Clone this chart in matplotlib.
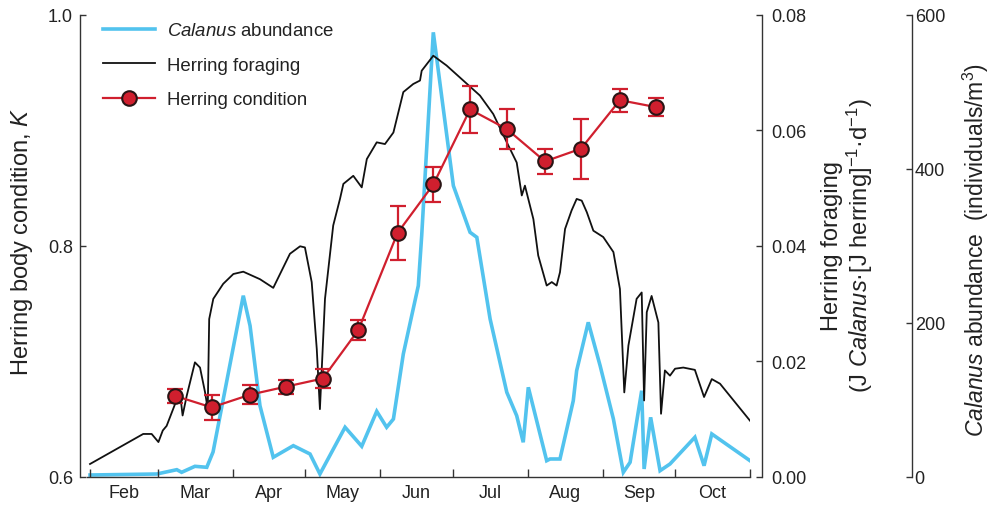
import matplotlib
matplotlib.use("Agg")
import matplotlib.pyplot as plt
from matplotlib.lines import Line2D

plt.rcParams['font.family'] = ['Liberation Sans', 'DejaVu Sans']
plt.rcParams['mathtext.fontset'] = 'custom'
plt.rcParams['mathtext.rm'] = 'Liberation Sans'
plt.rcParams['mathtext.it'] = 'Liberation Sans:italic'
plt.rcParams['mathtext.bf'] = 'Liberation Sans:bold'

# x is day of year
month_starts = [32, 60, 91, 121, 152, 182, 213, 244, 274, 305]
month_names = ['Feb', 'Mar', 'Apr', 'May', 'Jun', 'Jul', 'Aug', 'Sep', 'Oct']

# Calanus abundance (individuals/m3)
cal_day = [32.0, 59.6, 67.9, 69.9, 75.4, 80.3, 82.9, 95.4, 98.2, 102.3, 107.8,
           116.1, 123.0, 127.1, 137.5, 144.4, 150.6, 154.7, 157.5, 161.6, 167.8,
           169.2, 174.0, 182.3, 189.2, 192.0, 197.5, 204.4, 208.5, 211.2, 213.3,
           220.9, 222.3, 226.4, 231.9, 233.3, 238.1, 243.0, 248.5, 252.6, 255.4,
           260.2, 261.2, 263.9, 267.8, 271.9, 282.2, 286.0, 289.2, 305.0]
cal_abund = [2.2, 3.5, 9.1, 5.7, 13.5, 12.2, 32.1, 235.1, 196.1, 92.2, 25.2,
             40.3, 29.5, 3.5, 64.2, 39.5, 84.9, 64.2, 74.9, 159.4, 248.1,
             313.0, 577.1, 377.9, 317.4, 310.9, 204.8, 109.6, 79.2, 44.7, 116.1,
             20.8, 23.0, 23.0, 98.7, 137.7, 200.5, 144.2, 74.9, 5.7, 18.7,
             111.7, 10.0, 77.1, 7.8, 16.5, 51.2, 14.3, 55.5, 20.8]

# Herring foraging (J Calanus per J herring per day)
forag_day = [32.0, 54.0, 57.5, 60.3, 62.1, 63.7, 67.2, 69.2, 70.3, 72.0, 75.4,
             77.5, 79.6, 80.7, 81.3, 83.0, 87.1, 91.3, 95.4, 102.3, 107.8,
             114.7, 118.9, 120.9, 123.7, 125.8, 127.1, 129.2, 132.6, 135.4, 136.8,
             140.9, 144.4, 146.5, 150.6, 154.0, 157.5, 161.6, 165.7, 168.5, 169.2,
             174.0, 179.5, 186.4, 193.3, 198.8, 204.4, 208.5, 210.6, 211.9, 215.4,
             217.4, 220.9, 223.0, 225.0, 226.4, 228.5, 231.2, 233.3, 235.4, 237.5,
             240.2, 244.3, 248.5, 251.2, 253.0, 254.7, 258.1, 260.2, 261.2, 262.3,
             264.3, 267.1, 268.2, 269.8, 271.9, 274.0, 277.4, 282.2, 286.0, 289.2,
             292.6, 305.0]
forag_rate = [0.0022, 0.0074, 0.0074, 0.0060, 0.0080, 0.0088, 0.0126, 0.0146, 0.0106, 0.0140, 0.0198,
              0.0189, 0.0146, 0.0117, 0.0273, 0.0308, 0.0334, 0.0351, 0.0355, 0.0342, 0.0327,
              0.0386, 0.0399, 0.0397, 0.0337, 0.0221, 0.0117, 0.0308, 0.0435, 0.0481, 0.0507,
              0.0521, 0.0501, 0.0550, 0.0579, 0.0576, 0.0596, 0.0666, 0.0680, 0.0686, 0.0703,
              0.0729, 0.0712, 0.0686, 0.0660, 0.0628, 0.0579, 0.0544, 0.0487, 0.0504, 0.0446,
              0.0383, 0.0331, 0.0337, 0.0331, 0.0354, 0.0429, 0.0461, 0.0481, 0.0478, 0.0458,
              0.0426, 0.0415, 0.0389, 0.0325, 0.0146, 0.0227, 0.0308, 0.0319, 0.0132, 0.0285,
              0.0313, 0.0267, 0.0109, 0.0184, 0.0175, 0.0187, 0.0189, 0.0185, 0.0138, 0.0169,
              0.0161, 0.0097]

# Herring body condition K (mean and error)
cond_day = [67.2, 82.3, 98.2, 113.1, 128.3, 143.0, 159.2, 174.0, 189.2, 204.4, 220.2, 235.1, 251.2, 266.1]
cond_k = [0.670, 0.660, 0.671, 0.678, 0.685, 0.727, 0.811, 0.853, 0.918, 0.901, 0.873, 0.884, 0.926, 0.920]
cond_err = [0.006, 0.011, 0.008, 0.006, 0.008, 0.009, 0.023, 0.015, 0.020, 0.017, 0.011, 0.026, 0.010, 0.008]

blue = '#52c3ee'
red = '#d01f2e'
axis_col = '#333333'
text_col = '#222222'

W, H = 992, 506
fig = plt.figure(figsize=(W / 100, H / 100), dpi=100)
left, right, top, bottom = 86.5, 750, 15.7, 477.7
ax = fig.add_axes([left / W, 1 - bottom / H, (right - left) / W, (bottom - top) / H])
ax_f = ax.twinx()
ax_c = ax.twinx()
ax_c.set_zorder(1)
ax_f.set_zorder(2)
ax.set_zorder(3)
for a in (ax, ax_f, ax_c):
    a.patch.set_visible(False)
    for s in a.spines.values():
        s.set_visible(False)
        s.set_color(axis_col)
        s.set_linewidth(1.0)

cal_line, = ax_c.plot(cal_day, cal_abund, color=blue, lw=2.6, solid_joinstyle='miter')
forag_line, = ax_f.plot(forag_day, forag_rate, color='#111111', lw=1.3)
ax.errorbar(cond_day, cond_k, yerr=cond_err, fmt='none', ecolor=red, elinewidth=1.6,
            capsize=6, capthick=1.6, zorder=2)
cond_line, = ax.plot(cond_day, cond_k, color=red, lw=1.6, marker='o', ms=10.5,
                     mfc=red, mec='#2a1515', mew=1.5, zorder=3)

ax.set_xlim(30.55, 305)
ax.set_ylim(0.6, 1.0)
ax_f.set_ylim(0, 0.08)
ax_c.set_ylim(0, 600)

# left axis
ax.spines['left'].set_visible(True)
ax.spines['left'].set_position(('outward', 4.7))
ax.spines['bottom'].set_visible(True)
ax.set_yticks([0.6, 0.8, 1.0])
ax.set_yticklabels(['0.6', '0.8', '1.0'])
ax.tick_params(axis='y', direction='in', length=4.5, width=1.0, color=axis_col,
               labelsize=13, labelcolor=text_col, pad=5)

# months along the bottom
ax.set_xticks(month_starts)
ax.set_xticklabels([])
mids = [(a + b) / 2 for a, b in zip(month_starts[:-1], month_starts[1:])]
ax.set_xticks(mids, minor=True)
ax.set_xticklabels(month_names, minor=True)
ax.tick_params(axis='x', which='major', direction='in', length=5.5, width=1.0, color=axis_col)
ax.tick_params(axis='x', which='minor', length=0, labelsize=13, labelcolor=text_col, pad=5)

# foraging axis
ax_f.spines['right'].set_visible(True)
ax_f.spines['right'].set_position(('outward', 9))
ax_f.set_yticks([0.0, 0.02, 0.04, 0.06, 0.08])
ax_f.set_yticklabels(['0.00', '0.02', '0.04', '0.06', '0.08'])
ax_f.tick_params(axis='y', direction='in', length=4.5, width=1.0, color=axis_col,
                 labelsize=13, labelcolor=text_col, pad=6.5)

# Calanus axis
ax_c.spines['right'].set_visible(True)
ax_c.spines['right'].set_position(('outward', 116.6))
ax_c.set_yticks([0, 200, 400, 600])
ax_c.tick_params(axis='y', direction='in', length=4.5, width=1.0, color=axis_col,
                 labelsize=13, labelcolor=text_col, pad=2)

fig.text(22 / W, 1 - 242 / H, r'Herring body condition, $\mathit{K}$', rotation=90,
         ha='center', va='center', fontsize=17, color=text_col)
fig.text(848 / W, 1 - 246 / H,
         'Herring foraging\n' + r'(J $\mathit{Calanus}$·[J herring]$^{-1}$·d$^{-1}$)',
         rotation=90, ha='center', va='center', multialignment='center',
         fontsize=17, color=text_col, linespacing=1.05)
fig.text(976 / W, 1 - 250 / H, r'$\mathit{Calanus}$ abundance  (individuals/m$^{3}$)',
         rotation=90, ha='center', va='center', fontsize=16.5, color=text_col)

handles = [Line2D([], [], color=blue, lw=2.6),
           Line2D([], [], color='#111111', lw=1.3),
           Line2D([], [], color=red, lw=1.6, marker='o', ms=10.5, mfc=red, mec='#2a1515', mew=1.5)]
labels = [r'$\mathit{Calanus}$ abundance', 'Herring foraging', 'Herring condition']
fig.legend(handles, labels, loc='upper left', bbox_to_anchor=(103 / W, 1 - 23 / H),
           frameon=False, fontsize=13.4, handlelength=2.8, handletextpad=0.65,
           labelspacing=0.95, borderpad=0, borderaxespad=0, labelcolor=text_col)

fig.savefig('out.png', dpi=100, facecolor='white')
